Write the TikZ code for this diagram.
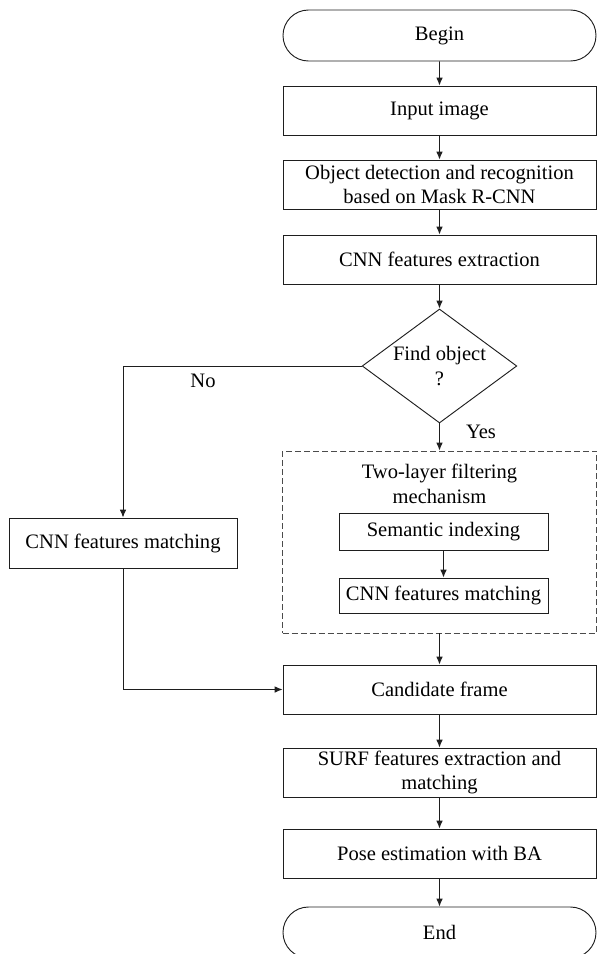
\documentclass[tikz,border=0pt]{standalone}
\usepackage{fontspec}
\setmainfont{Liberation Serif}
\usepackage{xcolor}
\definecolor{Col1}{RGB}{30,30,30}
\usepackage{tikz}
\usetikzlibrary{shapes}
\usetikzlibrary{arrows.meta}
\tikzstyle{Box}=[rectangle,draw=Col1,line width=.7pt,align=center,
inner sep=0pt,minimum width=234.75pt,minimum height=36.75pt]
\tikzstyle{Term}=[rounded rectangle,draw=Col1,line width=.7pt,
inner sep=0pt,minimum width=234.75pt,minimum height=38.25pt]
\tikzstyle{Decision}=[diamond,draw=Col1,line width=.7pt,align=center,
inner sep=0pt,shape aspect=1.4,minimum width=116pt,minimum height=85.5pt]
\tikzstyle{InnerBox}=[rectangle,draw=Col1,line width=.7pt,inner sep=0pt,
minimum width=156.75pt]
\tikzstyle{Group}=[rectangle,draw=Col1!80,dash pattern=on 4.5pt off 2.25pt,
line width=.7pt,minimum width=235.5pt,minimum height=136.5pt]
\tikzstyle{Edge}=[draw=Col1,line width=.7pt,-{Latex[length=6pt,width=5pt]}]
\tikzstyle{NodeST}=[font=\fontsize{15.4}{18.5}\selectfont]

\begin{document}
\begin{tikzpicture}[x=.75pt,y=-.75pt,NodeST]
    \useasboundingbox(0,0)rectangle(597,954);
    \node[Term](begin)at(439.5,35.5){Begin};
    \node[Box](input)at(439.5,110.5){Input image};
    \node[Box](detect)at(439.5,184.5)
        {Object detection and recognition\\based on Mask R-CNN};
    \node[Box](extract)at(439.5,259.5){CNN features extraction};
    \node[Decision](find)at(439.5,366){Find object\\?};
    \node[Group](filter)at(439.5,542){};
    \node(title)at(439.5,484)[align=center]
        {Two-layer filtering\\mechanism};
    \node[InnerBox,minimum height=27.75pt](semantic)at(443.5,531.5)
        {Semantic indexing};
    \node[InnerBox,minimum height=26.25pt](inner)at(443.5,595.5)
        {CNN features matching};
    \node[Box,minimum width=171pt,minimum height=37.5pt](left)at(123,543)
        {CNN features matching};
    \node[Box](candidate)at(439.5,689.5){Candidate frame};
    \node[Box](surf)at(439.5,772.5)
        {SURF features extraction and\\matching};
    \node[Box](pose)at(439.5,853.5){Pose estimation with BA};
    \node[Term](end)at(439.5,932.5){End};
    \node(no)at(203,381){No};
    \node(yes)at(481,432){Yes};
    \draw[Edge](begin)--(input);
    \draw[Edge](input)--(detect);
    \draw[Edge](detect)--(extract);
    \draw[Edge](extract)--(find);
    \draw[Edge](find.west)-|(left);
    \draw[Edge](find)--(filter);
    \draw[Edge](semantic)--(inner);
    \draw[Edge](filter)--(candidate);
    \draw[Edge](left)|-(candidate);
    \draw[Edge](candidate)--(surf);
    \draw[Edge](surf)--(pose);
    \draw[Edge](pose)--(end);
\end{tikzpicture}
\end{document}
